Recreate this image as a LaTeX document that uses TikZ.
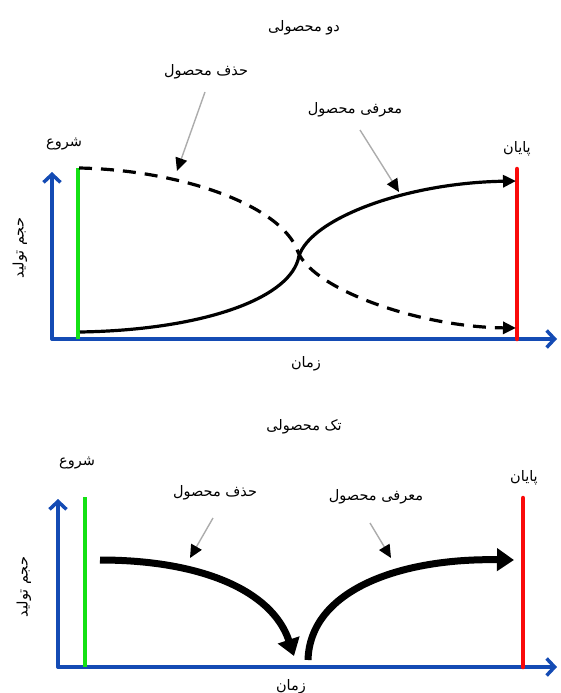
\documentclass[tikz,border=0pt]{standalone}
\usepackage{fontspec}
\usetikzlibrary{arrows.meta}
\TeXXeTstate=1
\newfontfamily\fa[Script=Arabic]{DejaVu Sans}
\definecolor{axisblue}{RGB}{20,75,180}
\definecolor{startgreen}{RGB}{20,225,20}
\definecolor{endred}{RGB}{250,10,10}
\begin{document}
\begin{tikzpicture}[x=1pt,y=-1pt,
  lbl/.style={font=\fa\fontsize{14.5}{16}\selectfont, inner sep=0pt},
  axisline/.style={draw=axisblue, line width=3.5pt, line cap=round, -{Straight Barb[length=8pt,width=17pt,line width=3.5pt]}},
  startline/.style={draw=startgreen, line width=4pt},
  endline/.style={draw=endred, line width=4.5pt, line cap=round},
  curve/.style={draw=black, line width=3.2pt, -{Triangle[length=13pt,width=12pt]}},
  dashcurve/.style={curve, dash pattern=on 13pt off 9pt},
  pointer/.style={draw=gray!65, line width=1.4pt, -{Triangle[length=13pt,width=12pt,black]}},
  bigarrow/.style={draw=black, line width=7pt, -{Triangle[length=17pt,width=22pt]}}
]
\useasboundingbox (0,0) rectangle (561,693);

% ---------- top diagram ----------
\node[lbl] (title1) at (304,28) {\beginR دو محصولی\endR};
\coordinate (o1) at (52,339);
\coordinate (ytip1) at (52,172);
\coordinate (xtip1) at (557,339);
\draw[axisline] (o1) -- (ytip1);
\draw[axisline] (o1) -- (xtip1);
\coordinate (gtop1) at (78,168);
\coordinate (gbot1) at (78,339);
\draw[startline] (gbot1) -- (gtop1);
\coordinate (rtop1) at (517,169);
\coordinate (rbot1) at (517,339);
\draw[endline] (rbot1) -- (rtop1);

\coordinate (dstart) at (79,168);
\coordinate (cross) at (298,252);
\coordinate (dend) at (516,328);
\draw[dashcurve] (dstart) .. controls (180,170) and (282,205) .. (cross)
   .. controls (314,290) and (420,327) .. (dend);
\coordinate (sstart) at (80,332);
\coordinate (scross) at (298,260);
\coordinate (send) at (516,181);
\draw[curve] (sstart) .. controls (200,330) and (286,300) .. (scross)
   .. controls (304,222) and (400,183) .. (send);

\node[lbl] (del1) at (206,72) {\beginR حذف محصول\endR};
\coordinate (del1tip) at (177,171);
\draw[pointer] (205,92) -- (del1tip);
\node[lbl] (intro1) at (355,110) {\beginR معرفی محصول\endR};
\coordinate (intro1tip) at (399,192);
\draw[pointer] (360,130) -- (intro1tip);

\node[lbl] (start1) at (64,144) {\beginR شروع\endR};
\node[lbl] (end1) at (517,149) {\beginR پایان\endR};
\node[lbl] (time1) at (306,364) {\beginR زمان\endR};
\node[lbl, rotate=90] (vol1) at (20,248) {\beginR حجم تولید\endR};

% ---------- bottom diagram ----------
\node[lbl] (title2) at (304,427) {\beginR تک محصولی\endR};
\coordinate (o2) at (58,667);
\coordinate (ytip2) at (58,499);
\coordinate (xtip2) at (557,667);
\draw[axisline] (o2) -- (ytip2);
\draw[axisline] (o2) -- (xtip2);
\coordinate (gtop2) at (85,497);
\coordinate (gbot2) at (85,667);
\draw[startline] (gbot2) -- (gtop2);
\coordinate (rtop2) at (523,498);
\coordinate (rbot2) at (523,667);
\draw[endline] (rbot2) -- (rtop2);

\coordinate (a1start) at (100,560);
\coordinate (a1end) at (294,656);
\draw[bigarrow] (a1start) .. controls (200,560) and (272,590) .. (a1end);
\coordinate (a2start) at (308,660);
\coordinate (a2end) at (514,560);
\draw[bigarrow] (a2start) .. controls (310,590) and (400,558) .. (a2end);

\node[lbl] (del2) at (215,493) {\beginR حذف محصول\endR};
\coordinate (del2tip) at (190,558);
\draw[pointer] (213,518) -- (del2tip);
\node[lbl] (intro2) at (376,497) {\beginR معرفی محصول\endR};
\coordinate (intro2tip) at (391,558);
\draw[pointer] (370,523) -- (intro2tip);

\node[lbl] (start2) at (77,463) {\beginR شروع\endR};
\node[lbl] (end2) at (524,478) {\beginR پایان\endR};
\node[lbl] (time2) at (291,687) {\beginR زمان\endR};
\node[lbl, rotate=90] (vol2) at (24,587) {\beginR حجم تولید\endR};
\end{tikzpicture}
\end{document}
